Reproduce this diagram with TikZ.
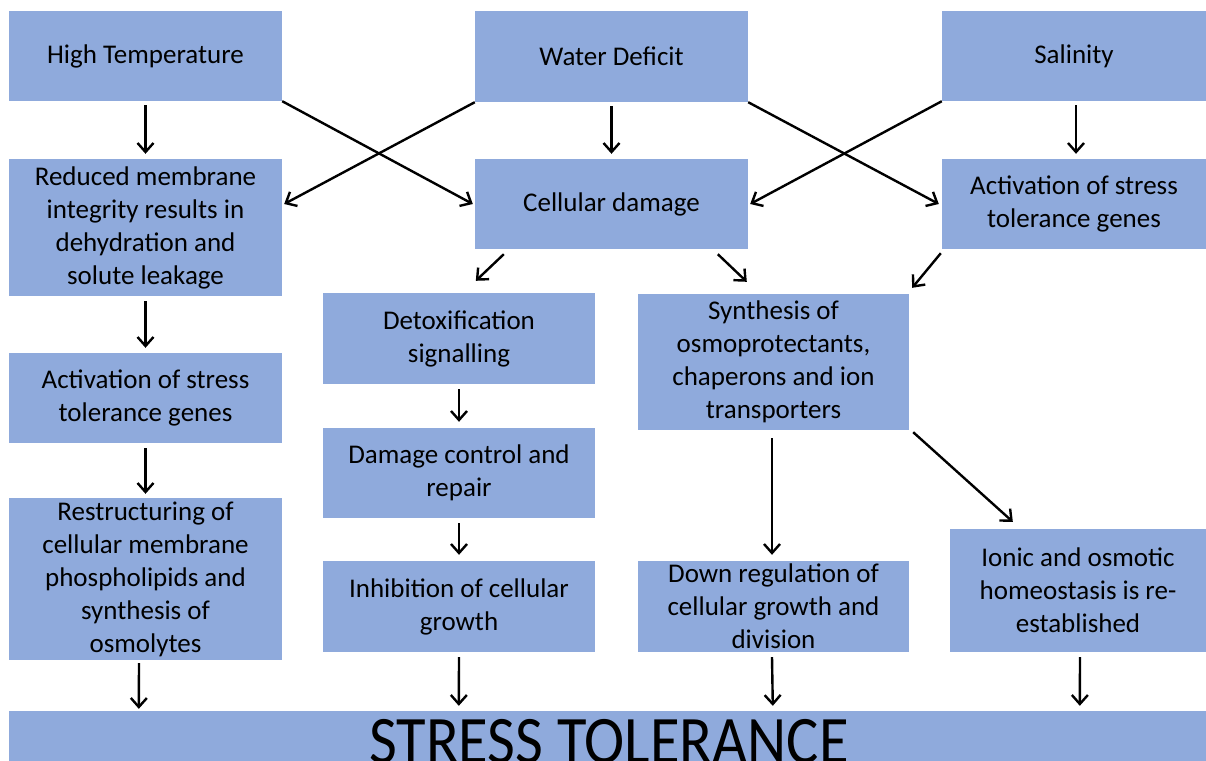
\documentclass[tikz,border=0pt]{standalone}
\usepackage{fontspec}
\setmainfont{Carlito}
\usetikzlibrary{arrows.meta,calc}
\definecolor{boxblue}{HTML}{8FAADC}
\tikzset{
  bx/.style={fill=boxblue, inner sep=0pt, align=center, text=black,
    font=\fontsize{27}{33}\selectfont},
  arr/.style={draw=black, line width=2.4pt, -{Straight Barb[length=9pt,width=16pt,line width=2.4pt]}},
}
\begin{document}
\begin{tikzpicture}[x=1pt,y=-1pt]
\useasboundingbox (0,0) rectangle (1206,760);
% top row
\node[bx, minimum width=273, minimum height=90] (ht) at (145.5,56) {High Temperature};
\node[bx, minimum width=273, minimum height=91] (wd) at (611.5,56.5) {Water Deficit};
\node[bx, minimum width=264, minimum height=90] (sa) at (1074,56) {Salinity};
% second row
\node[bx, minimum width=273, minimum height=137] (rm) at (145.5,227.5) {Reduced membrane\\integrity results in\\dehydration and\\solute leakage};
\node[bx, minimum width=273, minimum height=90] (cd) at (611.5,204) {Cellular damage};
\node[bx, minimum width=264, minimum height=90] (ar) at (1074,204) {Activation of stress\\tolerance genes};
% third
\node[bx, minimum width=272, minimum height=91] (dt) at (459,338.5) {Detoxification\\signalling};
\node[bx, minimum width=271, minimum height=136] (sy) at (773.5,362) {Synthesis of\\osmoprotectants,\\chaperons and ion\\transporters};
\node[bx, minimum width=273, minimum height=90] (al) at (145.5,398) {Activation of stress\\tolerance genes};
\node[bx, minimum width=272, minimum height=90] (dc) at (459,473) {Damage control and\\repair};
% fourth
\node[bx, minimum width=273, minimum height=162] (rs) at (145.5,579) {Restructuring of\\cellular membrane\\phospholipids and\\synthesis of\\osmolytes};
\node[bx, minimum width=272, minimum height=91] (ig) at (459,606.5) {Inhibition of cellular\\growth};
\node[bx, minimum width=271, minimum height=91] (dr) at (773.5,606.5) {Down regulation of\\cellular growth and\\division};
\node[bx, minimum width=256, minimum height=123] (io) at (1078,590.5) {Ionic and osmotic\\homeostasis is re-\\established};
% bottom bar
\node[fill=boxblue, inner sep=0pt, minimum width=1197, minimum height=60] (st) at (607.5,741) {};
\node[anchor=base, inner sep=0pt, xscale=0.89, font=\fontsize{68}{80}\selectfont] (stt) at (609,763) {STRESS TOLERANCE};
% vertical arrows
\draw[arr] ($(ht.south)+(0,4)$) -- ($(rm.north)+(0,-5)$);
\draw[arr] ($(wd.south)+(0,4)$) -- ($(cd.north)+(0,-5)$);
\draw[arr] ($(sa.south)+(2,4)$) -- ($(ar.north)+(2,-5)$);
\draw[arr] ($(rm.south)+(0,5)$) -- ($(al.north)+(0,-5)$);
\draw[arr] ($(al.south)+(0,5)$) -- ($(rs.north)+(0,-4)$);
\draw[arr] ($(dt.south)+(0,5)$) -- ($(dc.north)+(0,-6)$);
\draw[arr] ($(dc.south)+(0,5)$) -- ($(ig.north)+(0,-6)$);
\draw[arr] ($(sy.south)+(-1.5,8)$) -- ($(dr.north)+(-1.5,-6)$);
% crossing arrows
\draw[arr] (ht.south east) -- ($(cd.west)+(-2,0)$);
\draw[arr] (wd.south west) -- ($(rm.north east |- cd.west)+(2,0)$);
\draw[arr] (wd.south east) -- ($(ar.west)+(-3,0)$);
\draw[arr] (sa.south west) -- ($(cd.east)+(2,0)$);
% diagonal short arrows
\draw[arr] ($(cd.south west)+(29,5)$) -- ($(dt.north west)+(153,-12)$);
\draw[arr] ($(cd.south west)+(243,5)$) -- ($(sy.north west)+(109,-12)$);
\draw[arr] ($(ar.south west)+(-1,4)$) -- ($(sy.north east)+(3,-6)$);
\draw[arr] ($(sy.south east)+(4,2)$) -- ($(io.north west)+(63,-7)$);
% bottom arrows
\draw[arr] ($(rs.south)+(-6.5,3)$) -- ($(st.north west)+(130,-2)$);
\draw[arr] ($(ig.south)+(0,5)$) -- ($(st.north west)+(450,-5)$);
\draw[arr] ($(dr.south)+(-1.5,5)$) -- ($(st.north west)+(764,-5)$);
\draw[arr] ($(io.south)+(2,5)$) -- ($(st.north west)+(1071,-5)$);
\end{tikzpicture}
\end{document}
